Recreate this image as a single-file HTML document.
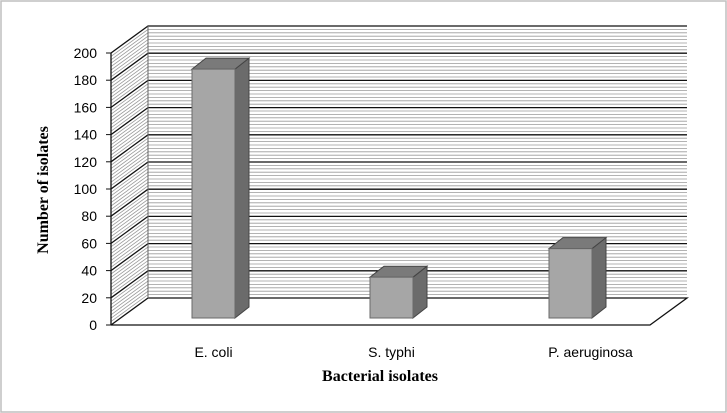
<!DOCTYPE html>
<html><head><meta charset="utf-8"><style>
html,body{margin:0;padding:0;background:#fff;}
svg{display:block;}
</style></head><body>
<svg id="chart" width="727" height="413" xmlns="http://www.w3.org/2000/svg">
<rect x="1" y="1" width="725" height="411" fill="#fff" stroke="#bfbfbf" stroke-width="1.5"/>
<g id="walls"></g>
<g id="bars"></g>
<g id="labels" font-family="Liberation Sans, sans-serif" font-size="14" fill="#000"></g>
<text x="380" y="381" text-anchor="middle" font-family="Liberation Serif, serif" font-weight="bold" font-size="16">Bacterial isolates</text>
<text transform="translate(48,190) rotate(-90)" text-anchor="middle" font-family="Liberation Serif, serif" font-weight="bold" font-size="16">Number  of isolates</text>
</svg>
<script>
const categories = ["E. coli", "S. typhi", "P. aeruginosa"];
const values = [183, 30, 51];
const yTicks = [0, 20, 40, 60, 80, 100, 120, 140, 160, 180, 200];

const NS = "http://www.w3.org/2000/svg";
const x0 = 111, y0 = 325, pxPer = 1.36, dx = 37, dy = -27, xEnd = 650;
const barX = [192, 370, 549], barW = 43, bdx = 14, bdy = -11, floorY = 318;
function yScale(v){ return y0 - v * pxPer; }
function mk(tag, attrs, parent){ const e = document.createElementNS(NS, tag); for (const k in attrs) e.setAttribute(k, attrs[k]); parent.appendChild(e); return e; }
const walls = document.getElementById('walls');
const bars = document.getElementById('bars');
const labels = document.getElementById('labels');

// minor hatch lines
for (let v = 2.5; v < 200; v += 2.5) {
  if (v % 20 === 0) continue;
  const y = yScale(v);
  const l1 = mk('polyline', {points: `${x0},${y} ${x0+dx},${y+dy} ${xEnd+dx},${y+dy}`, fill:'none', stroke:'#9a9a9a', 'stroke-width':0.8}, walls);
  
  
}
// major gridlines
yTicks.forEach(v => {
  const y = yScale(v);
  const pts = v === 0 ? `${x0},${y} ${x0+dx},${y+dy} ${xEnd+dx},${y+dy} ${xEnd},${y} ${x0},${y}` : `${x0},${y} ${x0+dx},${y+dy} ${xEnd+dx},${y+dy}`;
  const g = mk('polyline', {points: pts, fill:'none', stroke:'#111', 'stroke-width':1.3}, walls);
  
  
  mk('line', {x1:x0-5, y1:y, x2:x0, y2:y, stroke:'#111'}, walls);
  const t = mk('text', {x:x0-14, y:y+5, 'text-anchor':'end'}, labels);
  t.textContent = v;
  
  
});
const ax = mk('polyline', {points:`${x0},${yScale(200)} ${x0},${y0}`, fill:'none', stroke:'#111', 'stroke-width':1.3}, walls);


const bk = mk('line', {x1:x0+dx, y1:yScale(200)+dy, x2:x0+dx, y2:y0+dy, stroke:'#666'}, walls);



categories.forEach((c, i) => {
  const x = barX[i], top = floorY - values[i] * pxPer;
  const g = mk('g', {}, bars);
  
  
  mk('polygon', {points:`${x+barW},${top} ${x+barW+bdx},${top+bdy} ${x+barW+bdx},${floorY+bdy} ${x+barW},${floorY}`, fill:'#6b6b6b', stroke:'#444'}, g);
  mk('polygon', {points:`${x},${top} ${x+bdx},${top+bdy} ${x+barW+bdx},${top+bdy} ${x+barW},${top}`, fill:'#7a7a7a', stroke:'#444'}, g);
  mk('rect', {x:x, y:top, width:barW, height:floorY-top, fill:'#a6a6a6', stroke:'#6a6a6a'}, g);
  const t = mk('text', {x:x+barW/2 + (i===2?20:0), y:357, 'text-anchor':'middle'}, labels);
  t.textContent = c;
  
  
});
</script>
</body></html>
